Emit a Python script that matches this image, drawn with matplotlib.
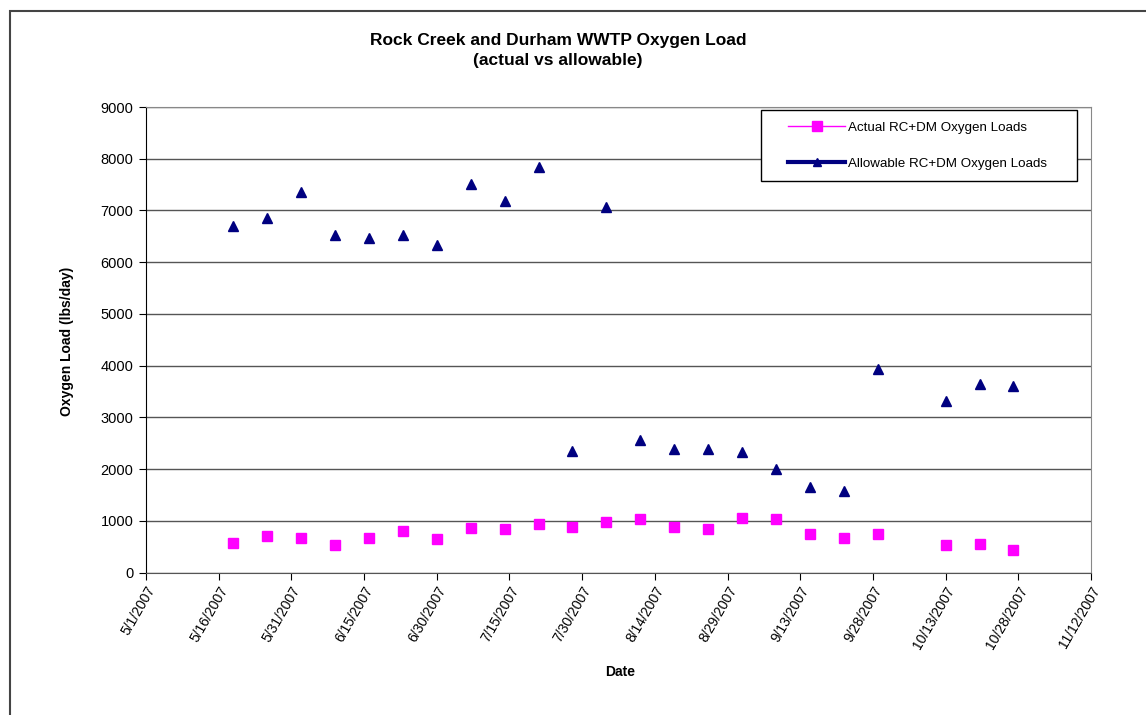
import numpy as np
import matplotlib
matplotlib.use("Agg")
import matplotlib.pyplot as plt
from matplotlib.lines import Line2D
from matplotlib.patches import Rectangle
from datetime import datetime, timedelta

plt.rcParams["font.family"] = ["Liberation Sans", "DejaVu Sans"]

# weekly sample dates (one week missing in early October)
dates = ["5/19/2007", "5/26/2007", "6/2/2007", "6/9/2007", "6/16/2007",
         "6/23/2007", "6/30/2007", "7/7/2007", "7/14/2007", "7/21/2007",
         "7/28/2007", "8/4/2007", "8/11/2007", "8/18/2007", "8/25/2007",
         "9/1/2007", "9/8/2007", "9/15/2007", "9/22/2007", "9/29/2007",
         "10/13/2007", "10/20/2007", "10/27/2007"]

actual = [580, 700, 665, 530, 670, 805, 650, 870, 850, 935,
          875, 980, 1030, 890, 850, 1055, 1045, 750, 665, 740,
          540, 548, 440]

allowable = [6700, 6860, 7360, 6520, 6470, 6530, 6330, 7520, 7190, 7840,
             2355, 7075, 2565, 2385, 2385, 2335, 2010, 1650, 1585, 3940,
             3320, 3650, 3615]

x = [datetime.strptime(d, "%m/%d/%Y") for d in dates]

W, H = 1146, 715
fig = plt.figure(figsize=(W / 100, H / 100), dpi=100)
# outer chart-area border (only left/top visible in the crop)
fig.patches.append(Rectangle((10 / W, -0.1), 1.2, 1 - 11 / H + 0.1,
                             transform=fig.transFigure, fill=False,
                             edgecolor="#444444", linewidth=1.5))

L, R, T, B = 146, 1091, 107, 572.7
ax = fig.add_axes([L / W, 1 - B / H, (R - L) / W, (B - T) / H])

ax.plot(x, actual, linestyle="none", marker="s", markersize=7,
        color="#FF00FF", markeredgecolor="#FF00FF")
ax.plot(x, allowable, linestyle="none", marker="^", markersize=7,
        color="#000080", markeredgecolor="#000080")

start = datetime(2007, 5, 1)
end = datetime(2007, 11, 12)
ticks = [start + timedelta(days=15 * i) for i in range(14)]
ax.set_xlim(start, end)
ax.set_xticks(ticks)
ax.set_xticklabels([f"{t.month}/{t.day}/{t.year}" for t in ticks],
                   rotation=60, ha="right", va="top", rotation_mode="anchor",
                   fontsize=10)

ax.set_ylim(0, 9000)
ax.set_yticks(np.arange(0, 9001, 1000))
ax.tick_params(axis="y", labelsize=10.5, length=5, direction="out", pad=4)
ax.tick_params(axis="x", length=5, direction="out", pad=3)
ax.grid(axis="y", color="#555555", linewidth=1)
ax.set_axisbelow(True)

for side in ["top", "right"]:
    ax.spines[side].set_color("#888888")
ax.spines["left"].set_color("black")
ax.spines["bottom"].set_color("#555555")

def px(xp, yp):
    return xp / W, 1 - yp / H

fig.text(*px(620, 672), "Date", ha="center", va="center",
         fontsize=10, fontweight="bold")
fig.text(*px(67, 341), "Oxygen Load (lbs/day)", ha="center", va="center",
         rotation=90, fontsize=10, fontweight="bold")

fig.text(*px(558, 40), "Rock Creek and Durham WWTP Oxygen Load",
         ha="center", va="center", fontsize=12.5, fontweight="bold")
fig.text(*px(558, 60), "(actual vs allowable)",
         ha="center", va="center", fontsize=12.5, fontweight="bold")

# legend frame drawn separately to match the wide padding
fig.patches.append(Rectangle(px(761, 181), (1077 - 761) / W, 71 / H,
                             transform=fig.transFigure, facecolor="white",
                             edgecolor="black", linewidth=1, zorder=5))
handles = [
    Line2D([], [], color="#FF00FF", linewidth=1, marker="s", markersize=7),
    Line2D([], [], color="#000080", linewidth=3, marker="^", markersize=6),
]
leg = fig.legend(handles, ["Actual RC+DM Oxygen Loads", "Allowable RC+DM Oxygen Loads"],
                 loc="center left", bbox_to_anchor=px(788, 145.5),
                 fontsize=9.6, frameon=False, borderpad=0, labelspacing=1.8,
                 handlelength=4.3, handletextpad=0.2, borderaxespad=0)
leg.set_zorder(6)

fig.savefig("out.png", dpi=100)
